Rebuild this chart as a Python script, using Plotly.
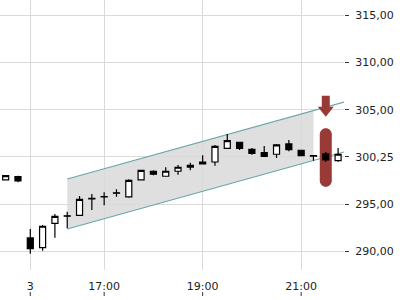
import plotly.graph_objects as go

# ---- data ----
times = ["02.03. 21:30", "02.03. 21:45",
         "03.03. 15:30", "03.03. 15:45", "03.03. 16:00", "03.03. 16:15", "03.03. 16:30", "03.03. 16:45",
         "03.03. 17:00", "03.03. 17:15", "03.03. 17:30", "03.03. 17:45", "03.03. 18:00", "03.03. 18:15",
         "03.03. 18:30", "03.03. 18:45", "03.03. 19:00", "03.03. 19:15", "03.03. 19:30", "03.03. 19:45",
         "03.03. 20:00", "03.03. 20:15", "03.03. 20:30", "03.03. 20:45", "03.03. 21:00", "03.03. 21:15",
         "03.03. 21:30", "03.03. 21:45"]
open_ = [297.57, 297.92, 291.43, 290.40, 292.98, 293.78, 293.83, 295.61, 295.82, 296.21, 295.77, 297.57,
         298.49, 297.96, 298.49, 298.91, 299.47, 299.47, 300.92, 301.56, 300.81, 300.46, 300.29, 301.38,
         300.71, 300.14, 300.32, 299.61]
high = [298.05, 298.02, 292.38, 292.80, 293.97, 294.21, 295.87, 296.08, 296.26, 296.58, 297.64, 298.62,
        298.59, 298.91, 299.15, 299.40, 300.18, 301.27, 302.43, 301.56, 300.95, 301.16, 301.38, 301.80,
        300.71, 300.16, 300.53, 300.95]
low = [297.55, 297.32, 289.77, 290.08, 291.46, 292.46, 293.80, 294.39, 294.89, 295.80, 295.69, 297.53,
       298.06, 297.96, 298.13, 298.59, 299.26, 299.08, 300.92, 300.74, 300.24, 300.07, 299.89, 300.60,
       300.07, 299.61, 299.47, 299.50]
close = [298.02, 297.46, 290.30, 292.67, 293.72, 293.74, 295.52, 295.57, 295.78, 296.17, 297.53, 298.59,
         298.17, 298.49, 298.91, 299.12, 299.26, 301.13, 301.72, 300.92, 300.39, 300.07, 301.27, 300.77,
         300.14, 300.10, 299.68, 300.29]

x_tickvals = ["03.03. 15:30", "03.03. 17:00", "03.03. 19:00", "03.03. 21:00"]
x_ticktext = ["3", "17:00", "19:00", "21:00"]
y_tickvals = [290, 295, 300, 305, 310, 315]
y_ticktext = ["290,00", "295,00", "300,25", "305,00", "310,00", "315,00"]

channel_start = "03.03. 16:15"
channel_end = "03.03. 21:15"
channel_upper = [297.67, 304.90]   # at start / end of shaded band
channel_lower = [292.38, 299.61]
channel_upper_edge = 305.80        # line value at right plot edge
channel_lower_edge = 300.53

signal_time = "03.03. 21:30"
signal_arrow_tip = 304.26
signal_range = [296.86, 303.04]

# ---- layout helpers ----
x_range = [-0.46, len(times) - 0.52]
y_range = [288.04, 316.61]
PLOT_H = 270
RED = "#9a3a36"
TEAL = "#6aa6ab"
GRID = "#dadada"

idx = {t: i for i, t in enumerate(times)}
i0, i1 = idx[channel_start], idx[channel_end]

fig = go.Figure()
fig.add_trace(go.Candlestick(
    x=times, open=open_, high=high, low=low, close=close,
    increasing=dict(fillcolor="white", line=dict(color="black", width=1.2)),
    decreasing=dict(fillcolor="black", line=dict(color="black", width=1.2)),
    whiskerwidth=0, hoverinfo="skip", showlegend=False))

shapes = []
# shaded channel (under grid)
shapes.append(dict(
    type="path", xref="x", yref="y", layer="below",
    path=f"M {i0},{channel_upper[0]} L {i1},{channel_upper[1]} L {i1},{channel_lower[1]} L {i0},{channel_lower[0]} Z",
    fillcolor="#dfdfdf", line=dict(width=0)))
# channel lines
shapes.append(dict(type="line", xref="x", yref="y", layer="between",
                   x0=i0, y0=channel_upper[0], x1=x_range[1], y1=channel_upper_edge,
                   line=dict(color=TEAL, width=1.2)))
shapes.append(dict(type="line", xref="x", yref="y", layer="between",
                   x0=i0, y0=channel_lower[0], x1=x_range[1], y1=channel_lower_edge,
                   line=dict(color=TEAL, width=1.2)))
# pill (signal range) with rounded ends: 12 px wide
r = 6
ry = r * (y_range[1] - y_range[0]) / PLOT_H
k = 0.5523
bot, top = signal_range
pill = (f"M {-r},{top-ry} C {-r},{top-ry+k*ry} {-k*r},{top} 0,{top} "
        f"C {k*r},{top} {r},{top-ry+k*ry} {r},{top-ry} "
        f"L {r},{bot+ry} C {r},{bot+ry-k*ry} {k*r},{bot} 0,{bot} "
        f"C {-k*r},{bot} {-r},{bot+ry-k*ry} {-r},{bot+ry} Z")
shapes.append(dict(type="path", xref="x", yref="y", xsizemode="pixel",
                   xanchor=idx[signal_time], layer="between", path=pill,
                   fillcolor=RED, line=dict(width=0)))
# arrow
shapes.append(dict(type="path", xref="x", yref="y", xsizemode="pixel", ysizemode="pixel",
                   xanchor=idx[signal_time], yanchor=signal_arrow_tip, layer="above",
                   path="M -4,21 L 4,21 L 4,10 L 8,10 L 0,0 L -8,10 L -4,10 Z",
                   fillcolor=RED, line=dict(width=0)))
# x tick marks below labels
for tv in x_tickvals:
    shapes.append(dict(type="line", xref="x", yref="paper", x0=idx[tv], x1=idx[tv],
                       y0=-0.0815, y1=-0.0963, line=dict(color="#333333", width=1)))

fig.update_layout(
    width=400, height=300, margin=dict(l=0, r=55.5, t=0, b=30),
    paper_bgcolor="white", plot_bgcolor="white",
    font=dict(family="DejaVu Sans", size=11, color="#222222"),
    shapes=shapes, showlegend=False, hovermode=False,
    xaxis=dict(type="category", categoryorder="array", categoryarray=times,
               range=x_range, tickvals=x_tickvals, ticktext=x_ticktext,
               showgrid=True, gridcolor=GRID, gridwidth=1, ticks="", showline=False,
               zeroline=False, rangeslider=dict(visible=False), ticklabelstandoff=8,
               fixedrange=True),
    yaxis=dict(side="right", range=y_range, tickvals=y_tickvals, ticktext=y_ticktext,
               showgrid=True, gridcolor=GRID, gridwidth=1, ticks="outside", ticklen=4,
               tickcolor="#333333", showline=False, zeroline=False, ticklabelstandoff=4,
               fixedrange=True),
)

fig.write_html("out.html")
